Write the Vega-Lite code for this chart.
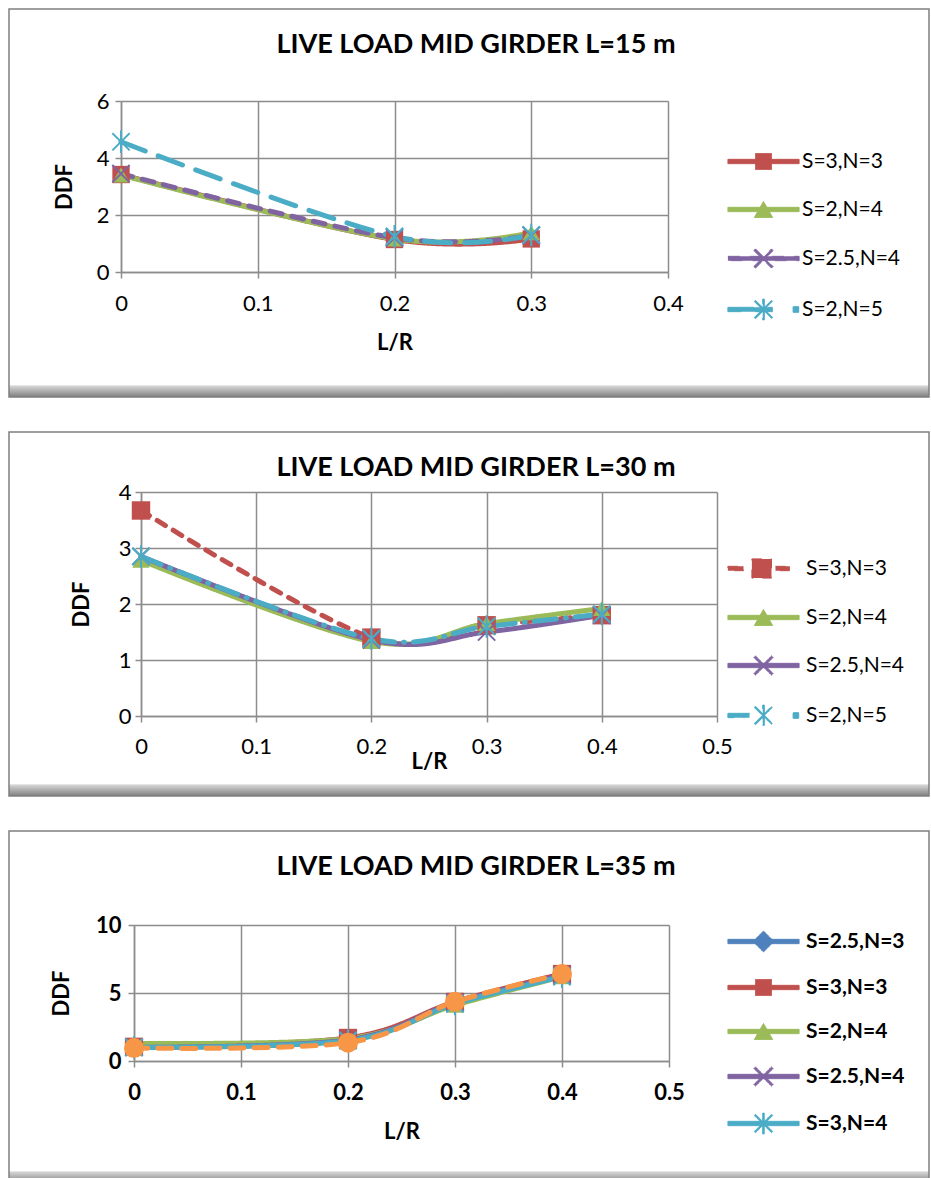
{
  "$schema": "https://vega.github.io/schema/vega-lite/v6.json",
  "padding": {"left": 8, "top": 8, "right": 3, "bottom": 0},
  "background": "#ffffff",
  "spacing": 33,
  "resolve": {"scale": {"color": "independent", "shape": "independent", "strokeDash": "independent"}, "legend": {"color": "independent", "shape": "independent", "strokeDash": "independent"}},
  "datasets": {
    "p15": [
      {"series": "S=3,N=3", "LR": 0, "DDF": 3.42}, {"series": "S=3,N=3", "LR": 0.2, "DDF": 1.14}, {"series": "S=3,N=3", "LR": 0.3, "DDF": 1.16},
      {"series": "S=2,N=4", "LR": 0, "DDF": 3.4}, {"series": "S=2,N=4", "LR": 0.2, "DDF": 1.16}, {"series": "S=2,N=4", "LR": 0.3, "DDF": 1.38},
      {"series": "S=2.5,N=4", "LR": 0, "DDF": 3.45}, {"series": "S=2.5,N=4", "LR": 0.2, "DDF": 1.2}, {"series": "S=2.5,N=4", "LR": 0.3, "DDF": 1.28},
      {"series": "S=2,N=5", "LR": 0, "DDF": 4.57}, {"series": "S=2,N=5", "LR": 0.2, "DDF": 1.25}, {"series": "S=2,N=5", "LR": 0.3, "DDF": 1.3}
    ],
    "p30": [
      {"series": "S=3,N=3", "LR": 0, "DDF": 3.67}, {"series": "S=3,N=3", "LR": 0.2, "DDF": 1.4}, {"series": "S=3,N=3", "LR": 0.3, "DDF": 1.62}, {"series": "S=3,N=3", "LR": 0.4, "DDF": 1.8},
      {"series": "S=2,N=4", "LR": 0, "DDF": 2.78}, {"series": "S=2,N=4", "LR": 0.2, "DDF": 1.33}, {"series": "S=2,N=4", "LR": 0.3, "DDF": 1.65}, {"series": "S=2,N=4", "LR": 0.4, "DDF": 1.92},
      {"series": "S=2.5,N=4", "LR": 0, "DDF": 2.85}, {"series": "S=2.5,N=4", "LR": 0.2, "DDF": 1.36}, {"series": "S=2.5,N=4", "LR": 0.3, "DDF": 1.5}, {"series": "S=2.5,N=4", "LR": 0.4, "DDF": 1.8},
      {"series": "S=2,N=5", "LR": 0, "DDF": 2.85}, {"series": "S=2,N=5", "LR": 0.2, "DDF": 1.38}, {"series": "S=2,N=5", "LR": 0.3, "DDF": 1.6}, {"series": "S=2,N=5", "LR": 0.4, "DDF": 1.82}
    ],
    "p35": [
      {"series": "S=2.5,N=3", "LR": 0, "DDF": 1.0}, {"series": "S=2.5,N=3", "LR": 0.2, "DDF": 1.55}, {"series": "S=2.5,N=3", "LR": 0.3, "DDF": 4.3}, {"series": "S=2.5,N=3", "LR": 0.4, "DDF": 6.3},
      {"series": "S=3,N=3", "LR": 0, "DDF": 1.05}, {"series": "S=3,N=3", "LR": 0.2, "DDF": 1.7}, {"series": "S=3,N=3", "LR": 0.3, "DDF": 4.35}, {"series": "S=3,N=3", "LR": 0.4, "DDF": 6.4},
      {"series": "S=2,N=4", "LR": 0, "DDF": 1.3}, {"series": "S=2,N=4", "LR": 0.2, "DDF": 1.65}, {"series": "S=2,N=4", "LR": 0.3, "DDF": 4.1}, {"series": "S=2,N=4", "LR": 0.4, "DDF": 6.2},
      {"series": "S=2.5,N=4", "LR": 0, "DDF": 1.0}, {"series": "S=2.5,N=4", "LR": 0.2, "DDF": 1.55}, {"series": "S=2.5,N=4", "LR": 0.3, "DDF": 4.3}, {"series": "S=2.5,N=4", "LR": 0.4, "DDF": 6.3},
      {"series": "S=3,N=4", "LR": 0, "DDF": 1.0}, {"series": "S=3,N=4", "LR": 0.2, "DDF": 1.5}, {"series": "S=3,N=4", "LR": 0.3, "DDF": 4.2}, {"series": "S=3,N=4", "LR": 0.4, "DDF": 6.2},
      {"series": "S=2,N=5", "LR": 0, "DDF": 0.95}, {"series": "S=2,N=5", "LR": 0.2, "DDF": 1.35}, {"series": "S=2,N=5", "LR": 0.3, "DDF": 4.35}, {"series": "S=2,N=5", "LR": 0.4, "DDF": 6.4}
    ]
  },
  "vconcat": [
    {
      "width": 920, "height": 388,
      "view": {"stroke": "#7f7f7f", "strokeWidth": 1.5, "fill": {"gradient": "linear", "x1": 0, "y1": 0, "x2": 0, "y2": 1, "stops": [{"offset": 0, "color": "#ffffff"}, {"offset": 0.968, "color": "#ffffff"}, {"offset": 0.972, "color": "#d4d4d4"}, {"offset": 1, "color": "#7f7f7f"}]}},
      "title": {"text": "LIVE LOAD MID GIRDER L=15 m"},
      "data": {"name": "p15"},
      "encoding": {
        "x": {"field": "LR", "type": "quantitative", "scale": {"domain": [0, 0.4], "range": [112, 659], "nice": false, "zero": false},
          "axis": {"orient": "bottom", "offset": -125, "values": [0, 0.1, 0.2, 0.3, 0.4], "format": "~g", "grid": false, "labelPadding": 15, "titlePadding": 18, "title": "L/R", "labelFlush": false}},
        "y": {"field": "DDF", "type": "quantitative", "scale": {"domain": [0, 6], "range": [263, 92], "nice": false, "zero": false},
          "axis": {"orient": "left", "offset": -112, "values": [0, 2, 4, 6], "grid": true, "labelPadding": 6, "titlePadding": 20, "title": "DDF", "labelFlush": false}}
      },
      "resolve": {"axis": {"x": "independent"}},
      "layer": [
        {
          "mark": {"type": "line", "interpolate": "cardinal", "strokeWidth": 5, "strokeCap": "round", "strokeJoin": "round"},
          "encoding": {
            "color": {"field": "series", "type": "nominal", "scale": {"domain": ["S=3,N=3", "S=2,N=4", "S=2.5,N=4", "S=2,N=5"], "range": ["#C0504D", "#9BBB59", "#8064A2", "#4BACC6"]},
              "legend": {"orient": "none", "legendX": 744, "legendY": 142, "direction": "vertical", "title": null, "labelOffset": 28, "rowPadding": 26}},
            "strokeDash": {"field": "series", "type": "nominal", "scale": {"domain": ["S=3,N=3", "S=2,N=4", "S=2.5,N=4", "S=2,N=5"], "range": [[1, 0], [1, 0], [12, 10], [26, 14]]}, "legend": null}
          }
        },
        {
          "transform": [{"filter": {"field": "series", "equal": "S=3,N=3"}}],
          "mark": {"type": "point", "shape": "square", "filled": true, "opacity": 1, "size": 300},
          "encoding": {"x": {"field": "LR", "type": "quantitative", "scale": {"domain": [0, 0.4], "range": [112, 659], "nice": false, "zero": false},
              "axis": {"orient": "top", "values": [0, 0.1, 0.2, 0.3, 0.4], "grid": true, "labels": false, "ticks": false, "domain": false, "title": null}},
            "color": {"field": "series", "type": "nominal", "legend": null}}
        },
        {
          "transform": [{"filter": {"field": "series", "equal": "S=2,N=4"}}],
          "mark": {"type": "point", "shape": "triangle-up", "filled": true, "opacity": 1, "size": 300},
          "encoding": {"x": {"field": "LR", "type": "quantitative", "scale": {"domain": [0, 0.4], "range": [112, 659], "nice": false, "zero": false}, "axis": null},
            "color": {"field": "series", "type": "nominal", "legend": null}}
        },
        {
          "transform": [{"filter": {"field": "series", "equal": "S=2.5,N=4"}}],
          "mark": {"type": "point", "shape": "M-1,-1L1,1M-1,1L1,-1", "filled": false, "opacity": 1, "size": 300, "strokeWidth": 2},
          "encoding": {"x": {"field": "LR", "type": "quantitative", "scale": {"domain": [0, 0.4], "range": [112, 659], "nice": false, "zero": false}, "axis": null},
            "color": {"field": "series", "type": "nominal", "legend": null}}
        },
        {
          "transform": [{"filter": {"field": "series", "equal": "S=2,N=5"}}],
          "mark": {"type": "point", "shape": "M-1,-1L1,1M-1,1L1,-1M0,-1.3V1.3", "filled": false, "opacity": 1, "size": 300, "strokeWidth": 2},
          "encoding": {"x": {"field": "LR", "type": "quantitative", "scale": {"domain": [0, 0.4], "range": [112, 659], "nice": false, "zero": false}, "axis": null},
            "color": {"field": "series", "type": "nominal", "legend": null}}
        },
        {
          "transform": [{"filter": "datum.DDF < -100"}],
          "mark": {"type": "point", "filled": true, "opacity": 1, "size": 256},
          "encoding": {
            "x": {"field": "LR", "type": "quantitative", "scale": {"domain": [0, 0.4], "range": [112, 659], "nice": false, "zero": false}, "axis": null},
            "color": {"field": "series", "type": "nominal", "legend": null},
            "shape": {"field": "series", "type": "nominal", "legend": null,
              "scale": {"domain": ["S=3,N=3", "S=2,N=4", "S=2.5,N=4", "S=2,N=5"], "range": [
                "M-4.45,-0.27H4.45V0.27H-4.45Z M-1.0,-1.0H1.0V1.0H-1.0Z",
                "M-4.45,-0.27H4.45V0.27H-4.45Z M0,-1.0L1.15,1.0H-1.15Z",
                "M-4.45,-0.27H4.45V0.27H-4.45Z M-1.0,-1.2L1.2,1.0L1.0,1.2L-1.2,-1.0Z M-1.2,1.0L1.0,-1.2L1.2,-1.0L-1.0,1.2Z",
                "M-4.45,-0.27H1.1V0.27H-4.45Z M-1.0,-1.15L1.15,1.0L1.0,1.15L-1.15,-1.0Z M-1.15,1.0L1.0,-1.15L1.15,-1.0L-1.0,1.15Z M-0.1,-1.3H0.1V1.3H-0.1Z M3.7,-0.35H4.4V0.35H3.7Z"]}}
          }
        }
      ]
    },
    {
      "width": 920, "height": 364,
      "view": {"stroke": "#7f7f7f", "strokeWidth": 1.5, "fill": {"gradient": "linear", "x1": 0, "y1": 0, "x2": 0, "y2": 1, "stops": [{"offset": 0, "color": "#ffffff"}, {"offset": 0.966, "color": "#ffffff"}, {"offset": 0.97, "color": "#d4d4d4"}, {"offset": 1, "color": "#7f7f7f"}]}},
      "title": {"text": "LIVE LOAD MID GIRDER L=30 m"},
      "data": {"name": "p30"},
      "encoding": {
        "x": {"field": "LR", "type": "quantitative", "scale": {"domain": [0, 0.5], "range": [132, 708], "nice": false, "zero": false},
          "axis": {"orient": "bottom", "offset": -80, "values": [0, 0.1, 0.2, 0.3, 0.4, 0.5], "format": "~g", "grid": false, "labelPadding": 14, "titlePadding": -6, "title": "L/R", "labelFlush": false}},
        "y": {"field": "DDF", "type": "quantitative", "scale": {"domain": [0, 4], "range": [284, 60], "nice": false, "zero": false},
          "axis": {"orient": "left", "offset": -132, "values": [0, 1, 2, 3, 4], "grid": true, "labelPadding": 4, "titlePadding": 25, "title": "DDF", "labelFlush": false}}
      },
      "resolve": {"axis": {"x": "independent"}},
      "layer": [
        {
          "mark": {"type": "line", "interpolate": "cardinal", "strokeWidth": 5, "strokeCap": "round", "strokeJoin": "round"},
          "encoding": {
            "color": {"field": "series", "type": "nominal", "scale": {"domain": ["S=3,N=3", "S=2,N=4", "S=2.5,N=4", "S=2,N=5"], "range": ["#C0504D", "#9BBB59", "#8064A2", "#4BACC6"]},
              "legend": {"orient": "none", "legendX": 744, "legendY": 126, "direction": "vertical", "title": null, "labelOffset": 32, "rowPadding": 25}},
            "strokeDash": {"field": "series", "type": "nominal", "scale": {"domain": ["S=3,N=3", "S=2,N=4", "S=2.5,N=4", "S=2,N=5"], "range": [[10, 9], [1, 0], [1, 0], [22, 9, 1, 9]]}, "legend": null}
          }
        },
        {
          "transform": [{"filter": {"field": "series", "equal": "S=3,N=3"}}],
          "mark": {"type": "point", "shape": "square", "filled": true, "opacity": 1, "size": 340},
          "encoding": {"x": {"field": "LR", "type": "quantitative", "scale": {"domain": [0, 0.5], "range": [132, 708], "nice": false, "zero": false},
              "axis": {"orient": "top", "values": [0, 0.1, 0.2, 0.3, 0.4, 0.5], "grid": true, "labels": false, "ticks": false, "domain": false, "title": null}},
            "color": {"field": "series", "type": "nominal", "legend": null}}
        },
        {
          "transform": [{"filter": {"field": "series", "equal": "S=2,N=4"}}],
          "mark": {"type": "point", "shape": "triangle-up", "filled": true, "opacity": 1, "size": 300},
          "encoding": {"x": {"field": "LR", "type": "quantitative", "scale": {"domain": [0, 0.5], "range": [132, 708], "nice": false, "zero": false}, "axis": null},
            "color": {"field": "series", "type": "nominal", "legend": null}}
        },
        {
          "transform": [{"filter": {"field": "series", "equal": "S=2.5,N=4"}}],
          "mark": {"type": "point", "shape": "M-1,-1L1,1M-1,1L1,-1", "filled": false, "opacity": 1, "size": 300, "strokeWidth": 2},
          "encoding": {"x": {"field": "LR", "type": "quantitative", "scale": {"domain": [0, 0.5], "range": [132, 708], "nice": false, "zero": false}, "axis": null},
            "color": {"field": "series", "type": "nominal", "legend": null}}
        },
        {
          "transform": [{"filter": {"field": "series", "equal": "S=2,N=5"}}],
          "mark": {"type": "point", "shape": "M-1,-1L1,1M-1,1L1,-1M0,-1.3V1.3", "filled": false, "opacity": 1, "size": 300, "strokeWidth": 2},
          "encoding": {"x": {"field": "LR", "type": "quantitative", "scale": {"domain": [0, 0.5], "range": [132, 708], "nice": false, "zero": false}, "axis": null},
            "color": {"field": "series", "type": "nominal", "legend": null}}
        },
        {
          "transform": [{"filter": "datum.DDF < -100"}],
          "mark": {"type": "point", "filled": true, "opacity": 1, "size": 256},
          "encoding": {
            "x": {"field": "LR", "type": "quantitative", "scale": {"domain": [0, 0.5], "range": [132, 708], "nice": false, "zero": false}, "axis": null},
            "color": {"field": "series", "type": "nominal", "legend": null},
            "shape": {"field": "series", "type": "nominal", "legend": null,
              "scale": {"domain": ["S=3,N=3", "S=2,N=4", "S=2.5,N=4", "S=2,N=5"], "range": [
                "M-4.45,-0.27H-2.5V0.27H-4.45Z M-1.45,-1.2H1.0V1.2H-1.45Z M1.5,-0.27H3.3V0.27H1.5Z",
                "M-4.45,-0.27H4.45V0.27H-4.45Z M0,-1.0L1.15,1.0H-1.15Z",
                "M-4.45,-0.27H4.45V0.27H-4.45Z M-1.0,-1.2L1.2,1.0L1.0,1.2L-1.2,-1.0Z M-1.2,1.0L1.0,-1.2L1.2,-1.0L-1.0,1.2Z",
                "M-4.45,-0.27H-1.75V0.27H-4.45Z M-1.0,-1.15L1.15,1.0L1.0,1.15L-1.15,-1.0Z M-1.15,1.0L1.0,-1.15L1.15,-1.0L-1.0,1.15Z M-0.1,-1.3H0.1V1.3H-0.1Z M3.7,-0.35H4.4V0.35H3.7Z"]}}
          }
        }
      ]
    },
    {
      "width": 920, "height": 352,
      "view": {"stroke": "#7f7f7f", "strokeWidth": 1.5, "fill": {"gradient": "linear", "x1": 0, "y1": 0, "x2": 0, "y2": 1, "stops": [{"offset": 0, "color": "#ffffff"}, {"offset": 0.965, "color": "#ffffff"}, {"offset": 0.969, "color": "#d4d4d4"}, {"offset": 1, "color": "#7f7f7f"}]}},
      "title": {"text": "LIVE LOAD MID GIRDER L=35 m"},
      "data": {"name": "p35"},
      "encoding": {
        "x": {"field": "LR", "type": "quantitative", "scale": {"domain": [0, 0.5], "range": [125, 660], "nice": false, "zero": false},
          "axis": {"orient": "bottom", "offset": -122, "values": [0, 0.1, 0.2, 0.3, 0.4, 0.5], "format": "~g", "grid": false, "labelPadding": 15, "titlePadding": 18, "title": "L/R", "labelFlush": false, "labelFontWeight": "bold"}},
        "y": {"field": "DDF", "type": "quantitative", "scale": {"domain": [0, 10], "range": [230, 94], "nice": false, "zero": false},
          "axis": {"orient": "left", "offset": -125, "values": [0, 5, 10], "grid": true, "labelPadding": 7, "titlePadding": 22, "title": "DDF", "labelFlush": false, "labelFontWeight": "bold"}}
      },
      "resolve": {"axis": {"x": "independent"}},
      "layer": [
        {
          "mark": {"type": "line", "interpolate": "cardinal", "strokeWidth": 5, "strokeCap": "round", "strokeJoin": "round"},
          "encoding": {
            "color": {"field": "series", "type": "nominal", "scale": {"domain": ["S=2.5,N=3", "S=3,N=3", "S=2,N=4", "S=2.5,N=4", "S=3,N=4", "S=2,N=5"], "range": ["#4F81BD", "#C0504D", "#9BBB59", "#8064A2", "#4BACC6", "#F79646"]},
              "legend": {"orient": "none", "legendX": 744, "legendY": 100, "direction": "vertical", "title": null, "labelOffset": 32, "rowPadding": 22, "labelFontWeight": "bold",
                "values": ["S=2.5,N=3", "S=3,N=3", "S=2,N=4", "S=2.5,N=4", "S=3,N=4"]}},
            "strokeDash": {"field": "series", "type": "nominal", "scale": {"domain": ["S=2.5,N=3", "S=3,N=3", "S=2,N=4", "S=2.5,N=4", "S=3,N=4", "S=2,N=5"], "range": [[1, 0], [1, 0], [1, 0], [1, 0], [1, 0], [14, 10]]}, "legend": null}
          }
        },
        {
          "transform": [{"filter": {"field": "series", "equal": "S=2.5,N=3"}}],
          "mark": {"type": "point", "shape": "diamond", "filled": true, "opacity": 1, "size": 330},
          "encoding": {"x": {"field": "LR", "type": "quantitative", "scale": {"domain": [0, 0.5], "range": [125, 660], "nice": false, "zero": false},
              "axis": {"orient": "top", "values": [0, 0.1, 0.2, 0.3, 0.4, 0.5], "grid": true, "labels": false, "ticks": false, "domain": false, "title": null}},
            "color": {"field": "series", "type": "nominal", "legend": null}}
        },
        {
          "transform": [{"filter": {"field": "series", "equal": "S=3,N=3"}}],
          "mark": {"type": "point", "shape": "square", "filled": true, "opacity": 1, "size": 330},
          "encoding": {"x": {"field": "LR", "type": "quantitative", "scale": {"domain": [0, 0.5], "range": [125, 660], "nice": false, "zero": false}, "axis": null},
            "color": {"field": "series", "type": "nominal", "legend": null}}
        },
        {
          "transform": [{"filter": {"field": "series", "equal": "S=2,N=4"}}],
          "mark": {"type": "point", "shape": "triangle-up", "filled": true, "opacity": 1, "size": 300},
          "encoding": {"x": {"field": "LR", "type": "quantitative", "scale": {"domain": [0, 0.5], "range": [125, 660], "nice": false, "zero": false}, "axis": null},
            "color": {"field": "series", "type": "nominal", "legend": null}}
        },
        {
          "transform": [{"filter": {"field": "series", "equal": "S=2.5,N=4"}}],
          "mark": {"type": "point", "shape": "M-1,-1L1,1M-1,1L1,-1", "filled": false, "opacity": 1, "size": 300, "strokeWidth": 2},
          "encoding": {"x": {"field": "LR", "type": "quantitative", "scale": {"domain": [0, 0.5], "range": [125, 660], "nice": false, "zero": false}, "axis": null},
            "color": {"field": "series", "type": "nominal", "legend": null}}
        },
        {
          "transform": [{"filter": {"field": "series", "equal": "S=3,N=4"}}],
          "mark": {"type": "point", "shape": "M-1,-1L1,1M-1,1L1,-1M0,-1.3V1.3", "filled": false, "opacity": 1, "size": 300, "strokeWidth": 2},
          "encoding": {"x": {"field": "LR", "type": "quantitative", "scale": {"domain": [0, 0.5], "range": [125, 660], "nice": false, "zero": false}, "axis": null},
            "color": {"field": "series", "type": "nominal", "legend": null}}
        },
        {
          "transform": [{"filter": {"field": "series", "equal": "S=2,N=5"}}],
          "mark": {"type": "point", "shape": "circle", "filled": true, "opacity": 1, "size": 400},
          "encoding": {"x": {"field": "LR", "type": "quantitative", "scale": {"domain": [0, 0.5], "range": [125, 660], "nice": false, "zero": false}, "axis": null},
            "color": {"field": "series", "type": "nominal", "legend": null}}
        },
        {
          "transform": [{"filter": "datum.DDF < -100"}],
          "mark": {"type": "point", "filled": true, "opacity": 1, "size": 256},
          "encoding": {
            "x": {"field": "LR", "type": "quantitative", "scale": {"domain": [0, 0.5], "range": [125, 660], "nice": false, "zero": false}, "axis": null},
            "color": {"field": "series", "type": "nominal", "legend": null},
            "shape": {"field": "series", "type": "nominal", "legend": null,
              "scale": {"domain": ["S=2.5,N=3", "S=3,N=3", "S=2,N=4", "S=2.5,N=4", "S=3,N=4", "S=2,N=5"], "range": [
                "M-4.45,-0.27H4.45V0.27H-4.45Z M0,-1.3L1.3,0L0,1.3L-1.3,0Z",
                "M-4.45,-0.27H4.45V0.27H-4.45Z M-1.0,-1.0H1.0V1.0H-1.0Z",
                "M-4.45,-0.27H4.45V0.27H-4.45Z M0,-1.0L1.15,1.0H-1.15Z",
                "M-4.45,-0.27H4.45V0.27H-4.45Z M-1.0,-1.2L1.2,1.0L1.0,1.2L-1.2,-1.0Z M-1.2,1.0L1.0,-1.2L1.2,-1.0L-1.0,1.2Z",
                "M-4.45,-0.27H4.45V0.27H-4.45Z M-1.0,-1.15L1.15,1.0L1.0,1.15L-1.15,-1.0Z M-1.15,1.0L1.0,-1.15L1.15,-1.0L-1.0,1.15Z M-0.1,-1.3H0.1V1.3H-0.1Z",
                "M-4.45,-0.27H4.45V0.27H-4.45Z M-1,-1H1V1H-1Z"]}}
          }
        }
      ]
    }
  ],
  "config": {
    "font": "Lato",
    "axis": {"labelFont": "Lato", "labelFontSize": 22, "labelColor": "#000000", "titleFont": "Lato", "titleFontSize": 22, "titleFontWeight": "bold", "titleColor": "#000000",
      "gridColor": "#8c8c8c", "gridWidth": 1.5, "gridOpacity": 1, "domainColor": "#8c8c8c", "domainWidth": 1.5, "tickColor": "#8c8c8c", "tickWidth": 1.5, "tickSize": 6, "labelOverlap": false},
    "legend": {"labelFont": "Lato", "labelFontSize": 21, "labelColor": "#000000", "padding": 0, "symbolSize": 256, "symbolStrokeWidth": 1, "symbolOpacity": 1, "labelLimit": 300},
    "title": {"font": "Lato", "fontSize": 27, "fontWeight": "bold", "color": "#000000", "anchor": "middle", "frame": "group", "baseline": "alphabetic", "offset": -50, "dx": 7}
  }
}
